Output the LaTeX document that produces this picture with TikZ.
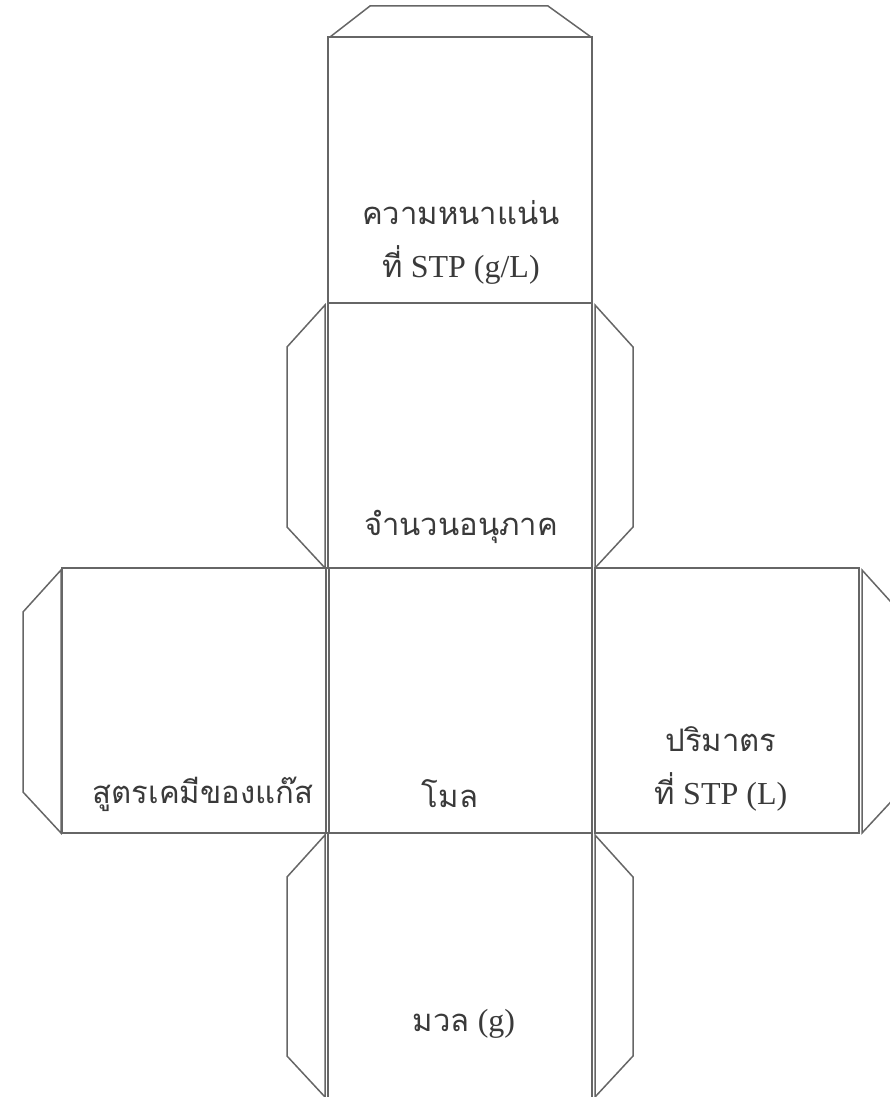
\documentclass[tikz,border=0pt]{standalone}
\usepackage{fontspec}
\setmainfont{Liberation Serif}
\newfontfamily\thaifont[Script=Thai,Scale=0.97]{Loma}
\definecolor{netgray}{HTML}{666666}
\definecolor{textgray}{HTML}{3A3A3A}
\tikzset{
    netline/.style={draw=netgray, line width=1.5pt, line join=miter},
    facetext/.style={text=textgray, font=\fontsize{32}{53}\selectfont, align=center, inner sep=0pt}
}
\begin{document}
\begin{tikzpicture}[x=1pt, y=-1pt]
        \useasboundingbox (0,0) rectangle (890,1097);
        \clip (0,0) rectangle (890,1097);
        \draw[netline] (328,37) rectangle (592,303);
        \draw[netline] (328,303) rectangle (592,568);
        \draw[netline] (329,568) rectangle (592,833);
        \draw[netline] (62,568) rectangle (326,833);
        \draw[netline] (595,568) rectangle (859,833);
        \draw[netline] (328,833) rectangle (592,1100);
        \draw[netline] (330,37) -- (370,6) -- (548,6) -- (591,37);
        \foreach \xi/\ya/\yb in {325/303/568, 61/568/833, 325/833/1097}
            \draw[netline] (\xi,\ya+2) -- (\xi-38,\ya+44) -- (\xi-38,\yb-41) -- (\xi,\yb) -- cycle;
        \foreach \xi/\ya/\yb in {595/303/568, 862/568/833, 595/833/1097}
            \draw[netline] (\xi,\ya+2) -- (\xi+38,\ya+44) -- (\xi+38,\yb-41) -- (\xi,\yb) -- cycle;
        \node[facetext] (density) at (461,242) {{\thaifont ความหนาแน่น}\\{\thaifont ที่} STP (g/L)};
        \node[facetext] (particles) at (461,527) {\thaifont จำนวนอนุภาค};
        \node[facetext] (formula) at (203,794) {\thaifont สูตรเคมีของแก๊ส};
        \node[facetext] (mole) at (450,794) {\thaifont โมล};
        \node[facetext] (volume) at (721,769) {{\thaifont ปริมาตร}\\{\thaifont ที่} STP (L)};
        \node[facetext] (mass) at (464,1024) {{\thaifont มวล} (g)};
        \end{tikzpicture}
\end{document}
